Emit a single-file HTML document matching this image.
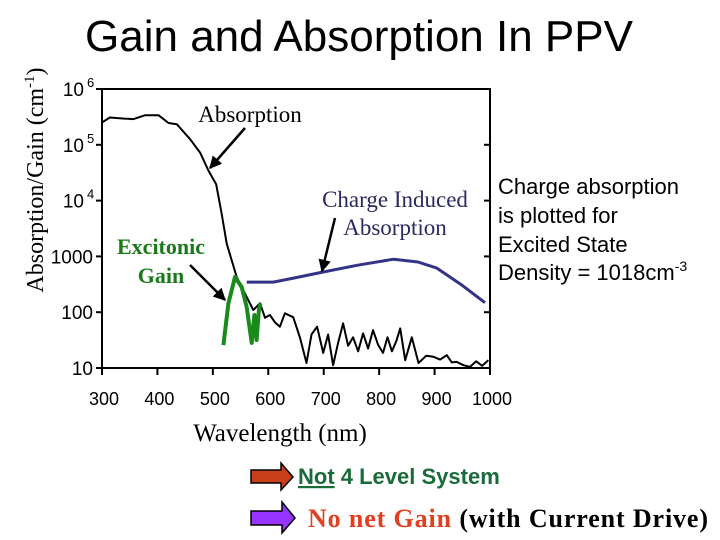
<!DOCTYPE html>
<html><head><meta charset="utf-8"><style>
body{margin:0;background:#fff;}
svg{display:block;}
</style></head><body>
<svg width="720" height="540" viewBox="0 0 720 540" xmlns="http://www.w3.org/2000/svg">
<defs>
<marker id="ah" viewBox="0 0 10 10" refX="9" refY="5" markerWidth="5" markerHeight="5" orient="auto"><path d="M0,0 L10,5 L0,10 z" fill="#000"/></marker>
</defs>
<text x="359" y="51" text-anchor="middle" font-family="Liberation Sans, sans-serif" font-size="44">Gain and Absorption In PPV</text>
<text transform="translate(43,180) rotate(-90)" text-anchor="middle" font-family="Liberation Serif, serif" font-size="24">Absorption/Gain (cm<tspan font-size="15" dy="-9">-1</tspan><tspan dy="9">)</tspan></text>
<rect x="102" y="89" width="388" height="279" fill="none" stroke="#000" stroke-width="2"/>
<g id="axes" font-family="Liberation Sans, sans-serif" font-size="18"></g>
<g id="series"></g>
<text x="280" y="441" text-anchor="middle" font-family="Liberation Serif, serif" font-size="25">Wavelength (nm)</text>
<text x="250" y="122" text-anchor="middle" font-family="Liberation Serif, serif" font-size="23">Absorption</text>
<line x1="245" y1="128" x2="210" y2="168" stroke="#000" stroke-width="2.5" marker-end="url(#ah)"/>
<text x="395" y="207" text-anchor="middle" fill="#2a2a60" font-family="Liberation Serif, serif" font-size="23">Charge Induced</text>
<text x="395" y="235" text-anchor="middle" fill="#2a2a60" font-family="Liberation Serif, serif" font-size="23">Absorption</text>
<line x1="335" y1="218" x2="322" y2="271" stroke="#000" stroke-width="2.5" marker-end="url(#ah)"/>
<text x="161" y="254" text-anchor="middle" fill="#1a7a1a" font-weight="bold" font-family="Liberation Serif, serif" font-size="22">Excitonic</text>
<text x="161" y="283" text-anchor="middle" fill="#1a7a1a" font-weight="bold" font-family="Liberation Serif, serif" font-size="22">Gain</text>
<line x1="190" y1="265" x2="225" y2="300" stroke="#000" stroke-width="2.5" marker-end="url(#ah)"/>
<g font-family="Liberation Sans, sans-serif" font-size="22">
<text x="498" y="194">Charge absorption</text>
<text x="498" y="223">is plotted for</text>
<text x="498" y="252">Excited State</text>
<text x="498" y="280">Density = 1018cm<tspan font-size="14" dy="-9">-3</tspan></text>
</g>
<path d="M251,470 H281 V463 L293,477 L281,490 V483 H251 Z" fill="#c8401a" stroke="#000" stroke-width="1.5"/>
<text x="298" y="484" fill="#1b6b3a" font-weight="bold" font-family="Liberation Sans, sans-serif" font-size="22"><tspan text-decoration="underline">Not</tspan> 4 Level System</text>
<path d="M251,511 H282 V502 L295,518 L282,533 V525 H251 Z" fill="#9933ff" stroke="#000" stroke-width="1.5"/>
<text x="308" y="527" font-weight="bold" font-family="Liberation Serif, serif" font-size="26" textLength="400"><tspan fill="#e04020">No net Gain</tspan> (with Current Drive)</text>
</svg>
<script>
const absWl=[300,314,340,357,378,402,420,435,459,477,492,506,516,525,543,561,573,585,594,603,612,621,630,645,657,669,678,688,699,708,717,726,735,744,753,762,771,780,789,798,807,815,823,831,838,847,859,871,885,898,910,922,931,940,952,964,975,986,997];
const absLog=[5.40,5.49,5.47,5.46,5.53,5.53,5.39,5.37,5.10,4.86,4.54,4.29,3.76,3.23,2.63,2.27,2.04,2.16,1.90,1.95,1.82,1.74,1.98,1.91,1.55,1.09,1.60,1.74,1.27,1.60,1.05,1.45,1.80,1.40,1.55,1.30,1.62,1.35,1.68,1.42,1.27,1.55,1.30,1.48,1.71,1.14,1.55,1.09,1.22,1.20,1.15,1.23,1.10,1.11,1.05,1.02,1.12,1.04,1.14];
const gainWl=[519,528,540,552,561,570,575,579,583,586];
const gainLog=[1.41,2.16,2.63,2.45,2.09,1.45,1.95,1.50,2.04,2.16];
const ciaWl=[561,609,650,699,760,826,870,904,950,991];
const ciaLog=[2.54,2.54,2.62,2.72,2.84,2.95,2.90,2.79,2.48,2.17];
const xTicks=[300,400,500,600,700,800,900,1000];
const yTicks=[1,2,3,4,5,6];
const yLabels=["10","100","1000","10","10","10"];
const ySup=["","","","4","5","6"];
const NS="http://www.w3.org/2000/svg";
function X(w){return 102+(w-300)*388/700;}
function Y(l){return 368-(l-1)*279/5;}
const axes=document.getElementById('axes'),series=document.getElementById('series');
function el(t,a,p){const e=document.createElementNS(NS,t);for(const k in a)e.setAttribute(k,a[k]);p.appendChild(e);return e;}
xTicks.forEach(v=>{
 const t=el('line',{x1:X(v),x2:X(v),y1:368,y2:375,stroke:'#000','stroke-width':2},axes);
 
 
 const l=el('text',{x:X(v)+2,y:405,'text-anchor':'middle'},axes);l.textContent=v;
 
 
});
yTicks.forEach((v,i)=>{
 const t=el('line',{x1:96,x2:102,y1:Y(v),y2:Y(v),stroke:'#000','stroke-width':2},axes);
 
 
 if(v>1&&v<6){const r=el('line',{x1:484,x2:490,y1:Y(v),y2:Y(v),stroke:'#000','stroke-width':2},axes);
 
 }
 const l=el('text',{x:ySup[i]?84:93,y:Y(v)+7,'text-anchor':'end','font-size':19},axes);l.textContent=yLabels[i];
 
 
 if(ySup[i]){const s=el('text',{x:87,y:Y(v)-2,'font-size':13},axes);s.textContent=ySup[i];
 
 }
});
function line(wl,lg,attrs,name){
 const d=wl.map((w,i)=>(i?'L':'M')+X(w).toFixed(1)+','+Y(lg[i]).toFixed(1)).join(' ');
 const p=el('path',Object.assign({d:d,fill:'none','stroke-linejoin':'round'},attrs),series);
 
 
}
line(absWl,absLog,{stroke:'#000','stroke-width':2},'absorption-line');
line(ciaWl,ciaLog,{stroke:'#333388','stroke-width':3},'charge-induced-absorption-line');
line(gainWl,gainLog,{stroke:'#1a8a1a','stroke-width':4},'excitonic-gain-line');
</script>
</body></html>
